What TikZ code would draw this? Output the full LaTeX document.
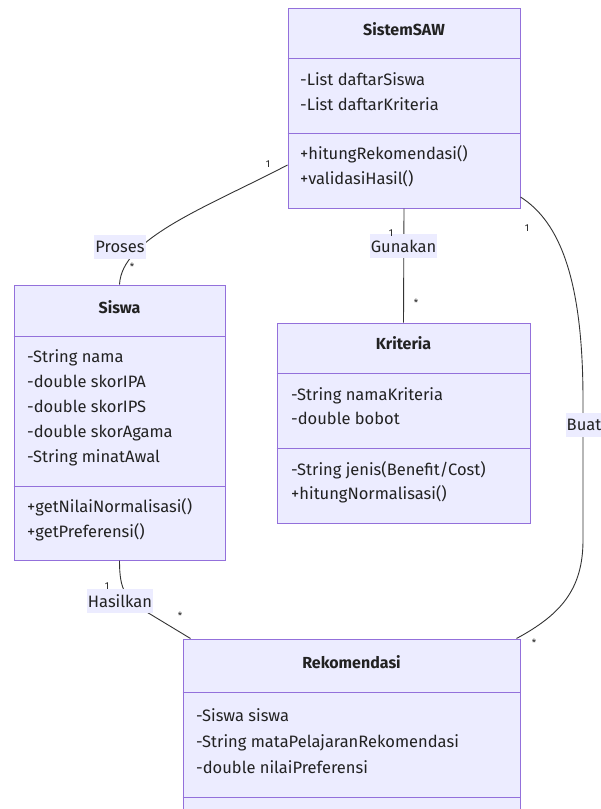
\documentclass[tikz,border=0pt]{standalone}
\usepackage{fontspec}
\setmainfont{Fira Sans}
\usetikzlibrary{calc}
\definecolor{cfill}{HTML}{ECECFF}
\definecolor{cborder}{HTML}{9370DB}
\definecolor{cline}{HTML}{333333}
\definecolor{ctext}{HTML}{222222}
\begin{document}
\begin{tikzpicture}[x=1pt,y=-1pt,
 cls/.style={draw=cborder, fill=cfill, line width=1pt, inner sep=0pt},
 div/.style={draw=cborder, line width=1pt},
 ttl/.style={font=\fontsize{16}{18}\selectfont\bfseries, text=ctext, anchor=mid, inner sep=0pt},
 mem/.style={font=\fontsize{16.5}{18}\selectfont, text=ctext, anchor=mid west, inner sep=0pt},
 conn/.style={draw=cline, line width=0.9pt},
 elabel/.style={fill=cfill, font=\fontsize{16.5}{18}\selectfont, text=ctext, inner xsep=1pt, inner ysep=0pt, minimum height=24pt},
 mult/.style={font=\fontsize{10}{12}\selectfont, text=ctext, inner sep=0pt}]
\clip (0,0) rectangle (601,809);
\fill[white] (0,0) rectangle (601,809);

% class boxes
\node[cls, minimum width=232pt, minimum height=200pt] (saw) at (404,108) {};
\node[cls, minimum width=211pt, minimum height=275pt] (sis) at (119.5,422.5) {};
\node[cls, minimum width=253pt, minimum height=200pt] (kri) at (403.5,423) {};
\node[cls, minimum width=337pt, minimum height=210pt] (rek) at (351.5,744) {};

% dividers
\draw[div] (saw.west |- 0,58) -- (saw.east |- 0,58);
\draw[div] (saw.west |- 0,133) -- (saw.east |- 0,133);
\draw[div] (sis.west |- 0,336) -- (sis.east |- 0,336);
\draw[div] (sis.west |- 0,486) -- (sis.east |- 0,486);
\draw[div] (kri.west |- 0,373) -- (kri.east |- 0,373);
\draw[div] (kri.west |- 0,448) -- (kri.east |- 0,448);
\draw[div] (rek.west |- 0,692) -- (rek.east |- 0,692);
\draw[div] (rek.west |- 0,797) -- (rek.east |- 0,797);

% titles
\node[ttl] (tsaw) at (404,33) {SistemSAW};
\node[ttl] (tsis) at (119.5,311) {Siswa};
\node[ttl] (tkri) at (403.5,347) {Kriteria};
\node[ttl] (trek) at (351.5,666) {Rekomendasi};

% members
\node[mem] (saw1) at (300,83) {-List daftarSiswa};
\node[mem] (saw2) at (300,108) {-List daftarKriteria};
\node[mem] (saw3) at (300,157) {+hitungRekomendasi()};
\node[mem] (saw4) at (300,182) {+validasiHasil()};

\node[mem] (sis1) at (27,360) {-String nama};
\node[mem] (sis2) at (27,385) {-double skorIPA};
\node[mem] (sis3) at (27,410) {-double skorIPS};
\node[mem] (sis4) at (27,435) {-double skorAgama};
\node[mem] (sis5) at (27,460) {-String minatAwal};
\node[mem] (sis6) at (27,510) {+getNilaiNormalisasi()};
\node[mem] (sis7) at (27,535) {+getPreferensi()};

\node[mem] (kri1) at (291,398) {-String namaKriteria};
\node[mem] (kri2) at (291,422) {-double bobot};
\node[mem] (kri3) at (291,473) {-String jenis(Benefit/Cost)};
\node[mem] (kri4) at (291,497) {+hitungNormalisasi()};

\node[mem] (rek1) at (196,719) {-Siswa siswa};
\node[mem] (rek2) at (196,745) {-String mataPelajaranRekomendasi};
\node[mem] (rek3) at (196,771) {-double nilaiPreferensi};

% connectors
\draw[conn] ($(saw.west)+(0,57)$) .. controls (205,208) and (122,238) .. (sis.north);
\draw[conn] (saw.south) -- (kri.north);
\draw[conn] ($(saw.east)+(0,89)$) .. controls (560,222) and (583,280) .. (583,400)
  -- (583,540) .. controls (583,590) and (560,615) .. ($(rek.north east)+(-4,0)$);
\draw[conn] (sis.south) .. controls (119.5,590) and (125,600) .. (150,614) -- ($(rek.north west)+(8,0)$);

% edge labels
\node[elabel] (lpro) at (120,247) {Proses};
\node[elabel] (lgun) at (403.5,246) {Gunakan};
\node[elabel] (lbua) at (584,425) {Buat};
\node[elabel] (lhas) at (120,601) {Hasilkan};

% multiplicities
\node[mult] (m1) at (268,164) {1};
\node[mult] (m2) at (132,267) {*};
\node[mult] (m3) at (391,233) {1};
\node[mult] (m4) at (416,303) {*};
\node[mult] (m5) at (527,228) {1};
\node[mult] (m6) at (534,643) {*};
\node[mult] (m7) at (107,586) {1};
\node[mult] (m8) at (180,616) {*};
\end{tikzpicture}
\end{document}
